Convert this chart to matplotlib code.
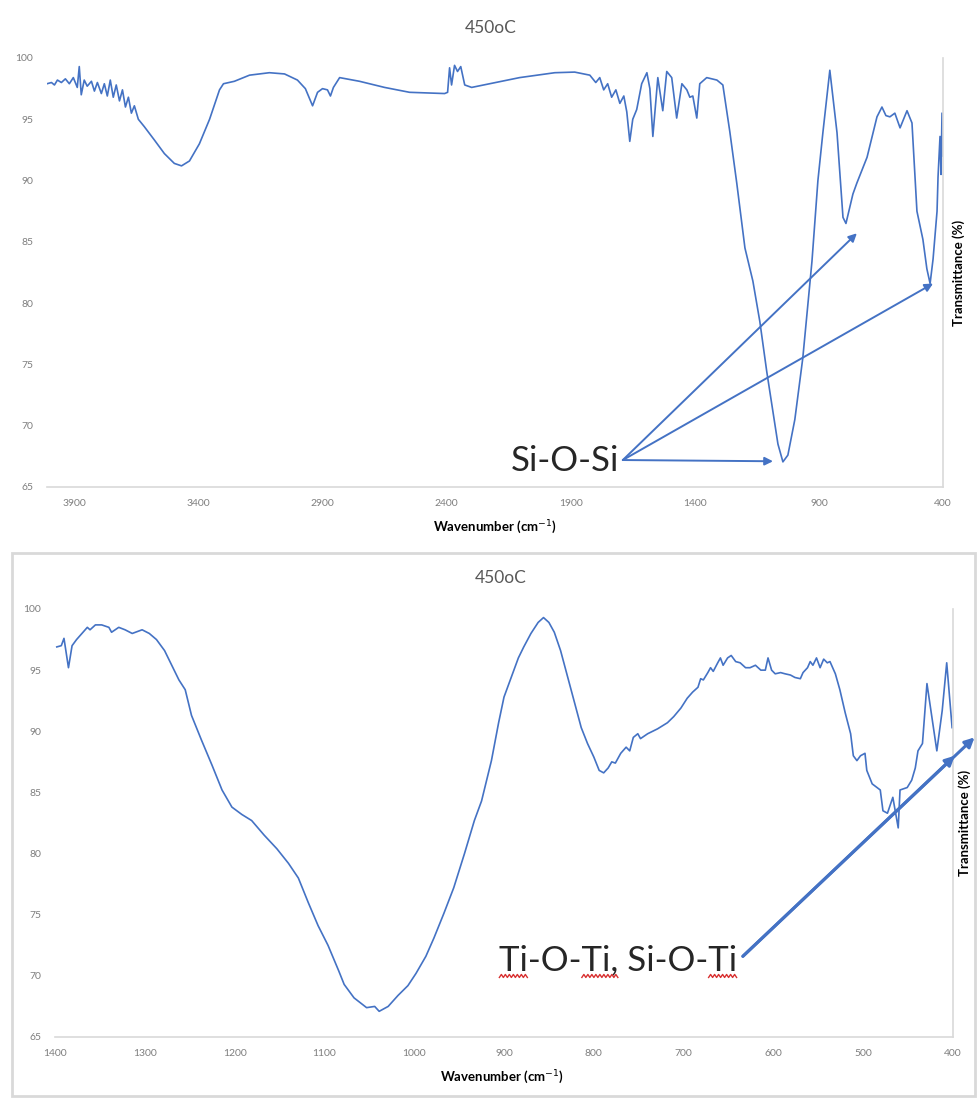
import numpy as np
import matplotlib.pyplot as plt
from matplotlib.lines import Line2D
from matplotlib.patches import Rectangle

plt.rcParams['font.family'] = ['Lato', 'DejaVu Sans']

BLUE = '#4472C4'
GRID = '#d9d9d9'
TICK = '#7f7f7f'

# full-range FTIR spectrum (cm-1, %T)
top_wavenumber = [4010, 3992, 3980, 3968, 3952, 3936, 3920, 3904, 3888, 3880, 3872, 3860,
                  3848, 3831, 3819, 3807, 3791, 3779, 3767, 3755, 3743, 3731, 3718, 3706,
                  3694, 3682, 3670, 3658, 3642, 3618, 3577, 3537, 3497, 3468, 3436, 3396,
                  3355, 3315, 3299, 3255, 3194, 3114, 3053, 3001, 2969, 2940, 2920, 2900,
                  2880, 2868, 2856, 2831, 2751, 2650, 2549, 2408, 2396, 2388, 2380, 2368,
                  2356, 2343, 2327, 2299, 2226, 2106, 1964, 1884, 1823, 1799, 1783, 1767,
                  1751, 1735, 1718, 1702, 1686, 1674, 1662, 1650, 1634, 1614, 1593, 1581,
                  1569, 1557, 1549, 1529, 1513, 1493, 1473, 1452, 1432, 1420, 1408, 1392,
                  1380, 1352, 1311, 1287, 1259, 1231, 1198, 1166, 1138, 1110, 1085, 1065,
                  1045, 1025, 997, 965, 928, 904, 884, 856, 827, 803, 791, 763,
                  747, 706, 666, 646, 630, 614, 594, 573, 545, 525, 505, 481,
                  465, 452, 440, 424, 420, 412, 408, 404, 400]
top_transmittance = [97.9, 98.0, 97.8, 98.2, 98.0, 98.3, 97.9, 98.4, 97.6, 99.3, 97.0, 98.2,
                     97.7, 98.1, 97.3, 98.0, 97.1, 97.9, 96.9, 98.2, 96.8, 97.8, 96.5, 97.4,
                     96.0, 96.8, 95.5, 96.1, 95.0, 94.4, 93.3, 92.2, 91.4, 91.2, 91.6, 93.0,
                     95.0, 97.4, 97.9, 98.1, 98.6, 98.8, 98.7, 98.2, 97.5, 96.1, 97.2, 97.5,
                     97.4, 96.9, 97.6, 98.4, 98.1, 97.6, 97.2, 97.1, 97.2, 99.2, 97.8, 99.4,
                     98.9, 99.3, 97.8, 97.6, 97.9, 98.4, 98.8, 98.85, 98.6, 98.0, 98.4, 97.4,
                     97.9, 96.8, 97.4, 96.3, 96.9, 95.6, 93.2, 95.0, 95.8, 97.9, 98.8, 97.5,
                     93.6, 96.5, 98.4, 95.7, 98.9, 98.4, 95.1, 97.9, 97.4, 96.8, 96.9, 95.1,
                     97.9, 98.4, 98.2, 97.8, 94.0, 89.8, 84.5, 81.8, 78.5, 74.4, 71.1, 68.5,
                     67.05, 67.6, 70.5, 75.5, 83.4, 90.0, 93.9, 99.0, 93.9, 87.0, 86.5, 88.9,
                     89.8, 91.9, 95.2, 96.0, 95.3, 95.2, 95.5, 94.3, 95.7, 94.7, 87.5, 85.2,
                     82.8, 81.6, 83.6, 87.5, 90.3, 93.6, 90.5, 95.5, 92.0]

# fingerprint region, 1400-400 cm-1
bottom_wavenumber = [1398, 1393, 1390, 1385, 1381, 1376, 1370, 1364, 1361, 1355, 1348, 1340,
                     1337, 1329, 1322, 1314, 1303, 1295, 1287, 1278, 1270, 1262, 1255, 1248,
                     1237, 1225, 1214, 1203, 1192, 1181, 1167, 1153, 1140, 1129, 1118, 1107,
                     1096, 1084, 1078, 1067, 1053, 1044, 1039, 1029, 1018, 1007, 998, 987,
                     978, 967, 956, 944, 933, 925, 914, 906, 900, 892, 884, 878,
                     870, 862, 856, 850, 844, 837, 829, 822, 814, 807, 800, 794,
                     789, 784, 780, 776, 770, 764, 760, 756, 751, 748, 740, 729,
                     718, 711, 703, 696, 690, 684, 681, 678, 673, 670, 667, 662,
                     659, 656, 651, 647, 642, 637, 631, 626, 620, 614, 609, 606,
                     602, 598, 592, 587, 581, 576, 570, 567, 562, 559, 556, 552,
                     548, 544, 540, 537, 531, 526, 520, 514, 511, 507, 503, 498,
                     496, 490, 481, 478, 473, 467, 461, 459, 451, 446, 442, 439,
                     434, 429, 423, 418, 412, 407, 401]
bottom_transmittance = [96.9, 97.0, 97.6, 95.2, 97.0, 97.5, 98.0, 98.5, 98.3, 98.7, 98.7, 98.5,
                        98.1, 98.5, 98.3, 98.0, 98.3, 98.0, 97.5, 96.6, 95.4, 94.2, 93.4, 91.3,
                        89.3, 87.2, 85.2, 83.8, 83.2, 82.7, 81.5, 80.4, 79.2, 78.0, 76.0, 74.1,
                        72.5, 70.4, 69.3, 68.2, 67.4, 67.5, 67.1, 67.5, 68.4, 69.2, 70.2, 71.6,
                        73.1, 75.1, 77.2, 80.0, 82.7, 84.3, 87.6, 90.7, 92.8, 94.4, 96.0, 96.9,
                        98.0, 98.9, 99.3, 98.9, 98.1, 96.6, 94.4, 92.5, 90.3, 89.0, 87.9, 86.8,
                        86.6, 87.0, 87.5, 87.4, 88.2, 88.7, 88.4, 89.5, 89.8, 89.4, 89.8, 90.2,
                        90.7, 91.2, 91.9, 92.7, 93.2, 93.6, 94.3, 94.2, 94.8, 95.2, 94.9, 95.6,
                        96.0, 95.4, 96.0, 96.2, 95.7, 95.6, 95.2, 95.2, 95.4, 95.0, 95.0, 96.0,
                        95.0, 94.7, 94.8, 94.7, 94.6, 94.4, 94.3, 94.8, 95.2, 95.7, 95.4, 96.0,
                        95.2, 95.9, 95.6, 95.7, 94.7, 93.4, 91.5, 89.8, 88.0, 87.6, 88.0, 88.2,
                        86.8, 85.7, 85.2, 83.5, 83.3, 84.6, 82.1, 85.2, 85.4, 86.0, 87.0, 88.4,
                        89.0, 93.9, 90.9, 88.4, 91.7, 95.6, 90.3]

top_xticks = [3900, 3400, 2900, 2400, 1900, 1400, 900, 400]
bottom_xticks = [1400, 1300, 1200, 1100, 1000, 900, 800, 700, 600, 500, 400]
yticks = [65, 70, 75, 80, 85, 90, 95, 100]

# band assignments: label anchor and arrow tips (cm-1, %T)
sio_label = (1706, 67.1)
sio_start = (1690, 67.2)
sio_targets = [(747, 85.7), (440, 81.6), (1085, 67.1)]
tio_label = (640, 71.3)
tio_start = (634, 71.6)
tio_targets = [(398, 88.0), (376, 89.5)]


def style_axes(ax, xlim, xticks):
    ax.set_xlim(*xlim)
    ax.set_ylim(65, 100)
    ax.set_xticks(xticks)
    ax.set_yticks(yticks)
    ax.tick_params(length=0, labelsize=7.5, labelcolor=TICK)
    ax.tick_params(axis='y', pad=10)
    ax.tick_params(axis='x', pad=9)
    for side in ('left', 'top'):
        ax.spines[side].set_visible(False)
    for side in ('bottom', 'right'):
        ax.spines[side].set_color(GRID)
        ax.spines[side].set_linewidth(1.2)
    ax.set_xlabel('Wavenumber (cm$^{-1}$)', fontsize=9.5, fontweight='bold', va='center')
    ax.yaxis.set_label_position('right')
    ax.set_ylabel('Transmittance (%)', fontsize=9.5, fontweight='bold',
                  rotation=90, va='center')


def squiggle(fig, txt, start, end, renderer):
    # red spell-check wave under txt.get_text()[start:end]
    s = txt.get_text()
    prop = txt.get_fontproperties()
    bb = txt.get_window_extent(renderer)
    w0 = renderer.get_text_width_height_descent(s[:start], prop, ismath=False)[0] if start else 0
    w1 = renderer.get_text_width_height_descent(s[:end], prop, ismath=False)[0]
    xs = np.arange(bb.x0 + w0, bb.x0 + w1, 2.0)
    ys = np.where(np.arange(len(xs)) % 2 == 0, bb.y0 - 1.5, bb.y0 + 1.5)
    inv = fig.transFigure.inverted()
    pts = inv.transform(np.column_stack([xs, ys]))
    fig.add_artist(Line2D(pts[:, 0], pts[:, 1], color='#d83030', lw=1.0,
                          transform=fig.transFigure))


fig = plt.figure(figsize=(9.77, 10.99), dpi=100)

ax1 = fig.add_axes([47 / 977, 1 - 487 / 1099, 896 / 977, 429 / 1099])
ax1.plot(top_wavenumber, top_transmittance, color=BLUE, lw=1.2)
style_axes(ax1, (4010, 400), top_xticks)
ax1.xaxis.set_label_coords(0.5, -0.093)
ax1.yaxis.set_label_coords(1.017, 0.5)
fig.text(491 / 977, 1 - 28 / 1099, '450oC', ha='center', va='center',
         fontsize=12.5, color='#595959')

ax1.text(*sio_label, 'Si-O-Si', ha='right', va='center', fontsize=25, color='#262626')
for tip in sio_targets:
    ax1.annotate('', xy=tip, xytext=sio_start,
                 arrowprops=dict(arrowstyle='-|>', color=BLUE, lw=1.4,
                                 mutation_scale=12, shrinkA=0, shrinkB=0))

ax2 = fig.add_axes([55 / 977, 1 - 1037 / 1099, 898 / 977, 428 / 1099])
ax2.plot(bottom_wavenumber, bottom_transmittance, color=BLUE, lw=1.2)
style_axes(ax2, (1400, 400), bottom_xticks)
ax2.xaxis.set_label_coords(0.498, -0.0935)
ax2.yaxis.set_label_coords(1.013, 0.5)
fig.text(501 / 977, 1 - 578 / 1099, '450oC', ha='center', va='center',
         fontsize=12.5, color='#595959')

tio = ax2.text(*tio_label, 'Ti-O-Ti, Si-O-Ti', ha='right', va='center',
               fontsize=25, color='#262626')
for tip in tio_targets:
    ax2.annotate('', xy=tip, xytext=tio_start, annotation_clip=False,
                 arrowprops=dict(arrowstyle='-|>', color=BLUE, lw=2.2,
                                 mutation_scale=14, shrinkA=0, shrinkB=0))

# frame around the second chart
fig.add_artist(Rectangle((12 / 977, 3 / 1099), 963 / 977, 543 / 1099, fill=False,
                         edgecolor=GRID, lw=2, transform=fig.transFigure))

fig.canvas.draw()
renderer = fig.canvas.get_renderer()
for a, b in [(0, 2), (5, 8), (14, 16)]:
    squiggle(fig, tio, a, b, renderer)

fig.savefig('out.png', dpi=100)
